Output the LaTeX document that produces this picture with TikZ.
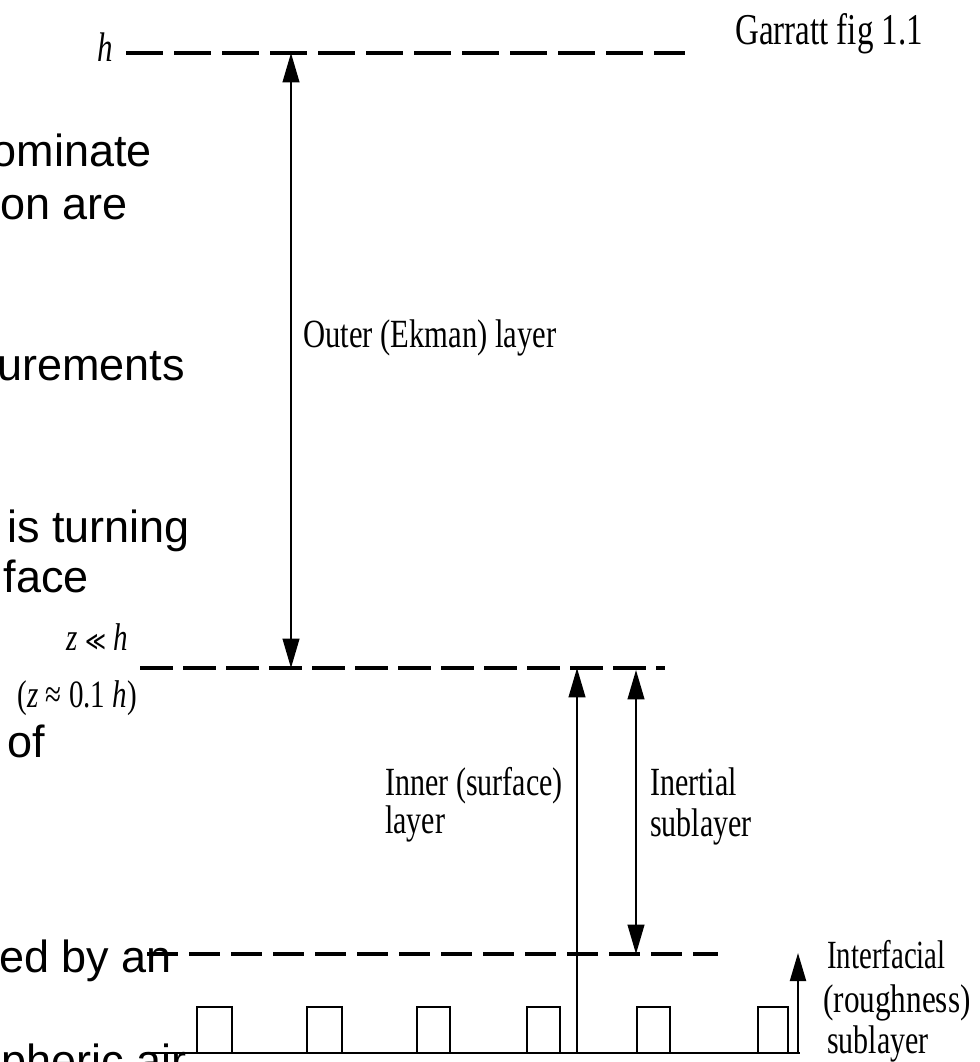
\documentclass[tikz,border=0pt]{standalone}
\usepackage{fontspec}
\setmainfont{Liberation Serif}
\newfontfamily\slidefont{Liberation Sans}
\newfontfamily\relfont{DejaVu Sans}
\usetikzlibrary{arrows.meta}
\newcommand{\nar}[1]{\scalebox{0.75}[1]{#1}}
\begin{document}
\begin{tikzpicture}[x=0.75pt,y=-0.75pt,
  lbl/.style={inner sep=0pt, anchor=base west, font=\fontsize{30}{30}\selectfont},
  mlbl/.style={inner sep=0pt, anchor=base east, font=\fontsize{29}{29}\selectfont},
  slide/.style={inner sep=0pt, anchor=base east, font=\slidefont\fontsize{33.75}{40}\selectfont},
  levelA/.style={line width=2.8pt, dash pattern=on 27.75pt off 8.25pt},
  levelB/.style={line width=2.6pt, dash pattern=on 24.75pt off 7.5pt},
  levelC/.style={line width=2.3pt, dash pattern=on 23.25pt off 8.25pt},
  arr/.style={line width=1.5pt},
  bigtip/.tip={Triangle[length=22pt,width=12.5pt]},
  smalltip/.tip={Triangle[length=21pt,width=12pt]},
  ground/.style={line width=2.2pt},
  block/.style={line width=2.2pt}
]
\clip (0,0) rectangle (979,1062);
\fill[white] (0,0) rectangle (979,1062);

% slide text tails (clipped on the left)
\node[slide] (s1) at (152,167) {ominate};
\node[slide] (s2) at (128,220) {on are};
\node[slide] (s3) at (185,380) {urements};
\node[slide] (s4) at (190,542) {is turning};
\node[slide] (s5) at (89,592) {face};
\node[slide] (s6) at (45,757) {of};
\node[slide] (s7) at (172,972) {ed by an};
\node[slide] (s8) at (187,1076) {pheric air};

% level lines
\coordinate (hL) at (126,53);  \coordinate (hR) at (685,53);
\coordinate (mL) at (140,668); \coordinate (mR) at (665,668);
\coordinate (bL) at (147,954); \coordinate (bR) at (718,954);
\coordinate (gL) at (145,1053); \coordinate (gR) at (800,1053);
\draw[levelA] (hL) -- (hR);
\draw[levelB] (mL) -- (mR);
\draw[levelC] (bL) -- (bR);
\draw[ground] (gL) -- (gR);

% roughness elements
\foreach \a/\b in {197/232,307/342,417/450,527/560,637/670,758/788}
  \draw[block] (\a,1053) |- (\b,1007) -- (\b,1053);

% arrows
\coordinate (oTop) at (291,53);   \coordinate (oBot) at (291,668);
\coordinate (iTop) at (577,668);  \coordinate (iBot) at (577,1053);
\coordinate (eTop) at (636,670);  \coordinate (eBot) at (636,954);
\coordinate (fTop) at (798,953);  \coordinate (fBot) at (798,1053);
\draw[arr, bigtip-bigtip] (oTop) -- (oBot);
\draw[arr, -bigtip] (iBot) -- (iTop);
\draw[arr, bigtip-bigtip] (eTop) -- (eBot);
\draw[arr, -smalltip] (fBot) -- (fTop);

% labels
\node[inner sep=0pt, anchor=base, font=\fontsize{31}{31}\selectfont] (lh) at (105,62) {\nar{\textit{h}}};
\node[mlbl] (lz1) at (128,650) {\nar{\textit{z} {\relfont\fontsize{20}{20}\selectfont ≪} \textit{h}}};
\node[mlbl] (lz2) at (137,707) {\nar{(\textit{z} ≈ 0.1 \textit{h})}};
\node[lbl, font=\fontsize{33}{33}\selectfont] (garr) at (735,45) {\nar{Garratt fig 1.1}};
\node[lbl] (outer) at (303,347) {\scalebox{0.765}[1]{Outer (Ekman) layer}};
\node[lbl] (inner1) at (385,795) {\nar{Inner (surface)}};
\node[lbl] (inner2) at (385,833) {\nar{layer}};
\node[lbl] (inert1) at (650,795) {\nar{Inertial}};
\node[lbl] (inert2) at (650,836) {\nar{sublayer}};
\node[lbl] (intf1) at (827,968) {\scalebox{0.72}[1]{Interfacial}};
\node[lbl] (intf2) at (823,1012) {\scalebox{0.78}[1]{(roughness)}};
\node[lbl] (intf3) at (827,1053) {\nar{sublayer}};
\end{tikzpicture}
\end{document}
